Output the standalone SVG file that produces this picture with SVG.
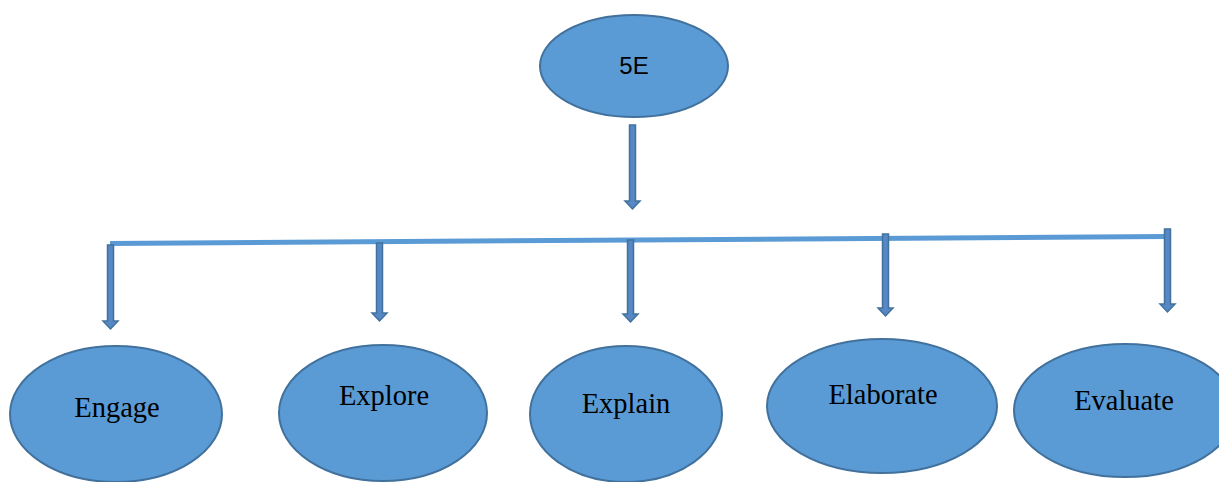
<svg xmlns="http://www.w3.org/2000/svg" width="1219" height="482" viewBox="0 0 1219 482">
<style>
.node{fill:#5B9BD5;stroke:#41719C;stroke-width:2}
.lbl{font-family:"Liberation Serif","Times New Roman",serif;font-size:28.5px;fill:#000;text-anchor:middle}
.top{font-family:"Liberation Sans",Arial,sans-serif;font-size:24px;fill:#000;text-anchor:middle}
.arr{fill:#5588C4;stroke:#41719C;stroke-width:1.5}
.bar{stroke:#5B9BD5;stroke-width:5;fill:none}
</style>
<rect width="1219" height="482" fill="#fff"/>
<g id="connectors">
<line class="bar" x1="110" y1="243.5" x2="1166" y2="236.5"/>
<polygon class="arr" points="629.5,125 635.5,125 635.5,201 640,201 632.5,209 625,201 629.5,201"/>
<polygon class="arr" points="107.5,245 113.5,245 113.5,321 118,321 110.5,329 103,321 107.5,321"/>
<polygon class="arr" points="376.5,243 382.5,243 382.5,313 387,313 379.5,321 372,313 376.5,313"/>
<polygon class="arr" points="627.5,240 633.5,240 633.5,314 638,314 630.5,322 623,314 627.5,314"/>
<polygon class="arr" points="882.5,234 888.5,234 888.5,308 893,308 885.5,316 878,308 882.5,308"/>
<polygon class="arr" points="1164.5,229 1170.5,229 1170.5,304 1175,304 1167.5,312 1160,304 1164.5,304"/>
</g>
<g id="n5E"><ellipse class="node" cx="634" cy="66" rx="94" ry="51"/><text class="top" x="634" y="74">5E</text></g>
<g id="engage"><ellipse class="node" cx="116" cy="414" rx="106" ry="68"/><text class="lbl" x="117" y="417">Engage</text></g>
<g id="explore"><ellipse class="node" cx="383" cy="413" rx="104" ry="68"/><text class="lbl" x="384" y="405">Explore</text></g>
<g id="explain"><ellipse class="node" cx="626" cy="414" rx="96" ry="68"/><text class="lbl" x="626" y="413">Explain</text></g>
<g id="elaborate"><ellipse class="node" cx="882" cy="406" rx="115" ry="67"/><text class="lbl" x="883" y="404">Elaborate</text></g>
<g id="evaluate"><ellipse class="node" cx="1125" cy="410.5" rx="111" ry="66.5"/><text class="lbl" x="1124" y="410">Evaluate</text></g>
</svg>
